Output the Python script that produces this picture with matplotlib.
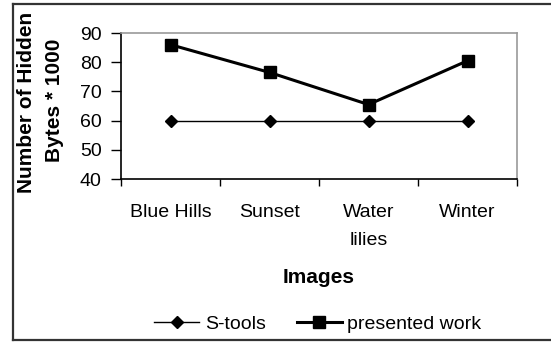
import matplotlib
matplotlib.use("Agg")
import matplotlib.pyplot as plt
from matplotlib.lines import Line2D
import numpy as np

plt.rcParams['font.family'] = ['Liberation Sans', 'DejaVu Sans']

# data
images = ['Blue Hills', 'Sunset', 'Water\nlilies', 'Winter']
s_tools = [60, 60, 60, 60]
presented_work = [86, 76.5, 65.5, 80.5]

fig = plt.figure(figsize=(5.51, 3.42), dpi=100)
ax = fig.add_axes([121 / 551, 1 - 179 / 342, 396 / 551, 146 / 342])

x = np.arange(len(images))
ax.plot(x, s_tools, color='black', lw=1.0, marker='D', ms=6, label='S-tools')
ax.plot(x, presented_work, color='black', lw=2.2, marker='s', ms=8, label='presented work')

# axes look
ax.set_xlim(-0.5, len(images) - 0.5)
ax.set_ylim(40, 90)
ax.set_yticks(range(40, 91, 10))
ax.set_xticks(np.arange(-0.5, len(images), 1.0))
ax.set_xticklabels([])
ax.set_xticks(x, minor=True)
ax.set_xticklabels(images, minor=True, fontsize=14, linespacing=1.85)
ax.tick_params(axis='x', which='major', length=5, width=1, direction='out')
ax.tick_params(axis='x', which='minor', length=0, pad=18)
ax.tick_params(axis='y', length=7, width=1, direction='out', labelsize=14, pad=7)

ax.spines['left'].set_color('black')
ax.spines['bottom'].set_color('black')
ax.spines['left'].set_linewidth(1.2)
ax.spines['bottom'].set_linewidth(1.2)
ax.spines['top'].set_color('#999999')
ax.spines['right'].set_color('#999999')
ax.spines['top'].set_linewidth(1.2)
ax.spines['right'].set_linewidth(1.2)

ax.set_xlabel('Images', fontsize=15, fontweight='bold', labelpad=14)
fig.text(27 / 551, 1 - 102 / 342, 'Number of Hidden', rotation=90, fontsize=15,
         fontweight='bold', ha='center', va='center')
fig.text(55 / 551, 1 - 100 / 342, 'Bytes * 1000', rotation=90, fontsize=15,
         fontweight='bold', ha='center', va='center')

fig.legend(loc='center', bbox_to_anchor=(318 / 551, 1 - 324 / 342), ncol=2,
           frameon=False, fontsize=14, handlelength=2.3, handletextpad=0.3,
           columnspacing=1.6)

# outer frame around the chart
frame = dict(transform=fig.transFigure, color='#333333')
fig.add_artist(Line2D([13 / 551, 1], [1 - 4 / 342] * 2, lw=1.6, **frame))
fig.add_artist(Line2D([13 / 551] * 2, [1 - 4 / 342, 1 - 340 / 342], lw=1.6, **frame))
fig.add_artist(Line2D([13 / 551, 1], [1 - 340 / 342] * 2, lw=1.6, **frame))

fig.savefig('out.png', dpi=100)
